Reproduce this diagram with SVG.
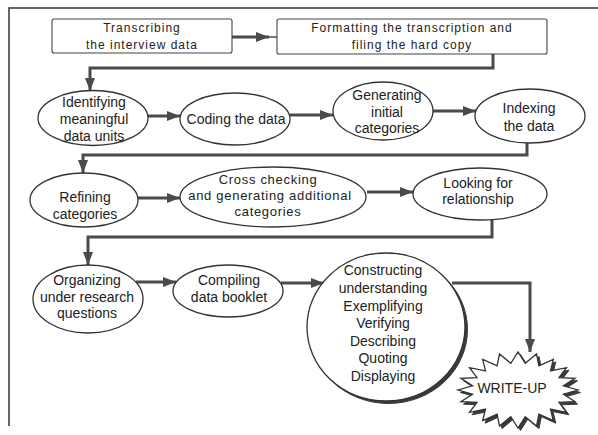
<svg xmlns="http://www.w3.org/2000/svg" width="598" height="435" viewBox="0 0 598 435">
<defs>
<style>
.frame{fill:none;stroke:#333;stroke-width:1.5}
.box{fill:#fff;stroke:#444;stroke-width:1.1}
.ell{fill:#fff;stroke:#333;stroke-width:1.3}
.shadow{fill:#3a3a3a;stroke:#3a3a3a;stroke-width:1}
.con{fill:none;stroke:#4a4a4a;stroke-width:3}
.thin{fill:none;stroke:#4a4a4a;stroke-width:1.5}
.t{font-family:"Liberation Sans",Arial,sans-serif;font-size:14px;fill:#222;text-anchor:middle}
.tb{font-family:"Liberation Sans",Arial,sans-serif;font-size:12px;letter-spacing:1px;fill:#222;text-anchor:middle}
.tc{font-family:"Liberation Sans",Arial,sans-serif;font-size:13px;letter-spacing:0.7px;fill:#222;text-anchor:middle}
</style>
<marker id="ah" markerUnits="userSpaceOnUse" markerWidth="13" markerHeight="10" refX="13" refY="5" orient="auto">
<path d="M0,0 L13,5 L0,10 Z" fill="#4a4a4a"/>
</marker>
</defs>
<rect width="598" height="435" fill="#fff"/>
<path class="frame" d="M9,426 V8 H598"/>

<g id="connectors">
<path class="con" d="M232,37 H269" marker-end="url(#ah)"/>
<path class="thin" d="M269,37 H277"/>
<path class="con" d="M493,54 V68 H90 V91" marker-end="url(#ah)"/>
<path class="con" d="M148,116 H180" marker-end="url(#ah)"/>
<path class="con" d="M290,115 H333" marker-end="url(#ah)"/>
<path class="con" d="M433,111 H476" marker-end="url(#ah)"/>
<path class="con" d="M527,143 V155 H83 V173" marker-end="url(#ah)"/>
<path class="con" d="M138,198 H180" marker-end="url(#ah)"/>
<path class="con" d="M367,192 H413" marker-end="url(#ah)"/>
<path class="con" d="M492,220 V237 H88 V265" marker-end="url(#ah)"/>
<path class="con" d="M136,282 H176" marker-end="url(#ah)"/>
<path class="con" d="M281,283 H324" marker-end="url(#ah)"/>
<path class="con" d="M452,283 H530 V352" marker-end="url(#ah)"/>
</g>

<g id="transcribing">
<rect class="box" x="52" y="19" width="180" height="34" rx="2"/>
<text class="tb" x="142" y="32">Transcribing</text>
<text class="tb" x="142" y="49">the interview data</text>
</g>
<g id="formatting">
<rect class="box" x="277" y="19" width="270" height="35" rx="2"/>
<text class="tb" x="412" y="32">Formatting the transcription and</text>
<text class="tb" x="412" y="49">filing the hard copy</text>
</g>

<g id="identifying">
<ellipse class="ell" cx="93" cy="118" rx="55" ry="27.5"/>
<text class="t" x="94" y="107">Identifying</text>
<text class="t" x="94" y="124">meaningful</text>
<text class="t" x="94" y="141">data units</text>
</g>
<g id="coding">
<ellipse class="ell" cx="235" cy="119" rx="55" ry="26"/>
<text class="t" x="236" y="124">Coding the data</text>
</g>
<g id="generating">
<ellipse class="ell" cx="383" cy="111" rx="50" ry="29"/>
<text class="t" x="387" y="100">Generating</text>
<text class="t" x="387" y="117">initial</text>
<text class="t" x="387" y="133">categories</text>
</g>
<g id="indexing">
<ellipse class="ell" cx="530" cy="116" rx="55" ry="27"/>
<text class="t" x="529" y="113">Indexing</text>
<text class="t" x="529" y="131">the data</text>
</g>

<g id="refining">
<ellipse class="ell" cx="84" cy="200" rx="54" ry="27"/>
<text class="t" x="85" y="202">Refining</text>
<text class="t" x="85" y="219">categories</text>
</g>
<g id="crosschecking">
<ellipse class="ell" cx="273" cy="197" rx="93" ry="30"/>
<text class="tc" x="268" y="184">Cross checking</text>
<text class="tc" x="270" y="200">and generating additional</text>
<text class="tc" x="268" y="216">categories</text>
</g>
<g id="looking">
<ellipse class="ell" cx="480" cy="194" rx="67" ry="26"/>
<text class="t" x="478" y="188">Looking for</text>
<text class="t" x="478" y="204">relationship</text>
</g>

<g id="organizing">
<ellipse class="ell" cx="88" cy="299" rx="55" ry="34"/>
<text class="t" x="87" y="285">Organizing</text>
<text class="t" x="87" y="302">under research</text>
<text class="t" x="87" y="318">questions</text>
</g>
<g id="compiling">
<ellipse class="ell" cx="228" cy="291" rx="55" ry="26"/>
<text class="t" x="229" y="285">Compiling</text>
<text class="t" x="229" y="302">data booklet</text>
</g>
<g id="constructing">
<ellipse class="shadow" cx="388.5" cy="329.5" rx="79" ry="74"/>
<ellipse class="ell" cx="386" cy="327" rx="79" ry="74"/>
<text class="t" x="383" y="275">Constructing</text>
<text class="t" x="383" y="293">understanding</text>
<text class="t" x="383" y="311">Exemplifying</text>
<text class="t" x="383" y="328">Verifying</text>
<text class="t" x="383" y="346">Describing</text>
<text class="t" x="383" y="363">Quoting</text>
<text class="t" x="383" y="381">Displaying</text>
</g>
<g id="writeup">
<polygon class="shadow" transform="translate(2.5,2.5)" points="578,390 563.4,394.2 575.1,401.7 559,402.3 566.5,412.3 550.5,409.1 553.3,420.7 538.9,414.1 536.5,426.1 525.2,416.7 518,428 510.8,416.7 499.5,426.1 497.1,414.1 482.7,420.7 485.5,409.1 469.5,412.3 477,402.3 460.9,401.7 472.6,394.2 458,390 472.6,385.8 460.9,378.3 477,377.7 469.5,367.7 485.5,370.9 482.7,359.3 497.1,365.9 499.5,353.9 510.8,363.3 518,352 525.2,363.3 536.5,353.9 538.9,365.9 553.3,359.3 550.5,370.9 566.5,367.7 559,377.7 575.1,378.3 563.4,385.8"/>
<polygon class="ell" points="578,390 563.4,394.2 575.1,401.7 559,402.3 566.5,412.3 550.5,409.1 553.3,420.7 538.9,414.1 536.5,426.1 525.2,416.7 518,428 510.8,416.7 499.5,426.1 497.1,414.1 482.7,420.7 485.5,409.1 469.5,412.3 477,402.3 460.9,401.7 472.6,394.2 458,390 472.6,385.8 460.9,378.3 477,377.7 469.5,367.7 485.5,370.9 482.7,359.3 497.1,365.9 499.5,353.9 510.8,363.3 518,352 525.2,363.3 536.5,353.9 538.9,365.9 553.3,359.3 550.5,370.9 566.5,367.7 559,377.7 575.1,378.3 563.4,385.8"/>
<text class="t" x="512" y="393">WRITE-UP</text>
</g>
</svg>
